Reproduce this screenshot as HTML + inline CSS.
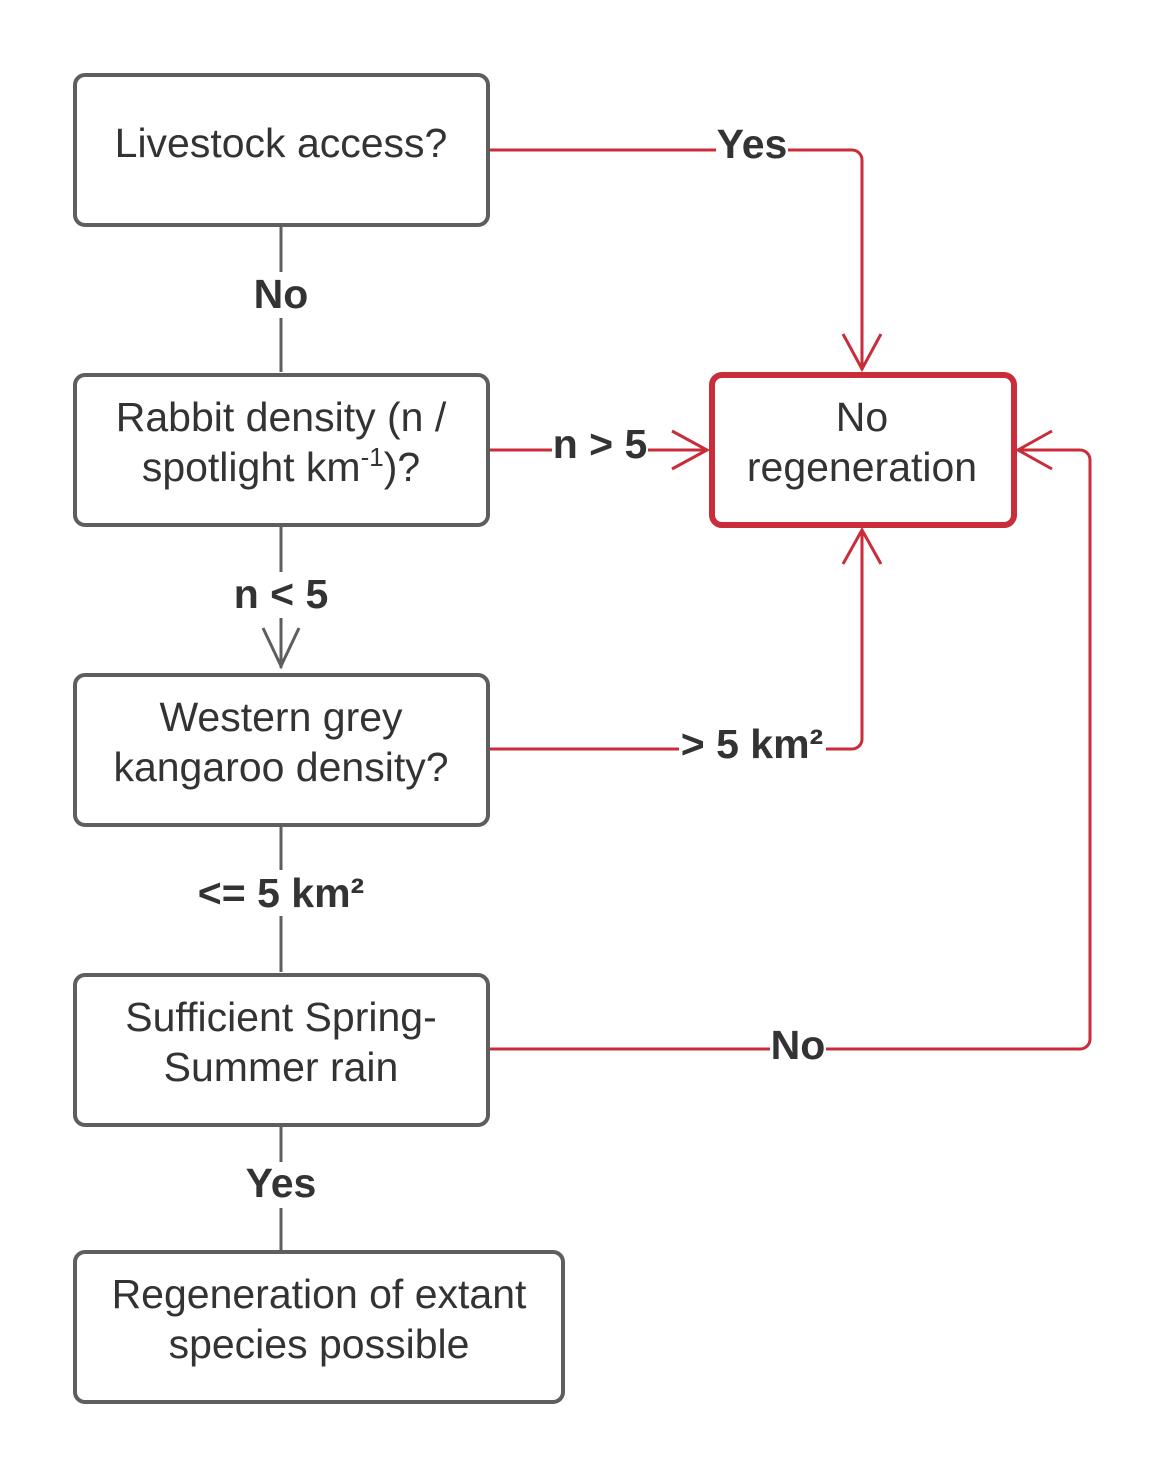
<!DOCTYPE html>
<html><head><style>body{margin:0;background:#fff}svg{display:block}</style></head><body>
<svg width="1168" height="1478" viewBox="0 0 1168 1478" xmlns="http://www.w3.org/2000/svg" font-family="Liberation Sans, Arial, sans-serif">
<g fill="none" stroke-width="3">
<path d="M281 225V372M281 525V668M281 825V972M281 1125V1250" stroke="#5e5e5e"/>
<path d="M263 628L281 666L299 628" stroke="#5e5e5e"/>
<path d="M488 150H852a10 10 0 0 1 10 10V370" stroke="#c92d39"/>
<path d="M843 334L862 369L881 334" stroke="#c92d39"/>
<path d="M488 450H707" stroke="#c92d39"/>
<path d="M672 431L707 450L672 469" stroke="#c92d39"/>
<path d="M488 749H852a10 10 0 0 0 10-10V530" stroke="#c92d39"/>
<path d="M843 564L862 530L881 564" stroke="#c92d39"/>
<path d="M488 1049H1080a10 10 0 0 0 10-10V460a10 10 0 0 0-10-10H1018" stroke="#c92d39"/>
<path d="M1052 431L1018 450L1052 469" stroke="#c92d39"/>
</g>
<g fill="#fff" stroke="#5e5e5e" stroke-width="4">
<rect x="75" y="75" width="413" height="150" rx="10"/>
<rect x="75" y="375" width="413" height="150" rx="10"/>
<rect x="75" y="675" width="413" height="150" rx="10"/>
<rect x="75" y="975" width="413" height="150" rx="10"/>
<rect x="75" y="1252" width="488" height="150" rx="10"/>
</g>
<rect x="712" y="375" width="302" height="150" rx="10" fill="#fff" stroke="#c92d39" stroke-width="6"/>
<g fill="#333" font-size="41" text-anchor="middle">
<text x="281" y="157">Livestock access?</text>
<text x="281" y="431">Rabbit density (n /</text>
<text x="281" y="481">spotlight km<tspan font-size="26" dy="-15">-1</tspan><tspan dy="15">)?</tspan></text>
<text x="281" y="731">Western grey</text>
<text x="281" y="781">kangaroo density?</text>
<text x="281" y="1031">Sufficient Spring-</text>
<text x="281" y="1081">Summer rain</text>
<text x="319" y="1308">Regeneration of extant</text>
<text x="319" y="1358">species possible</text>
<text x="862" y="431">No</text>
<text x="862" y="481">regeneration</text>
</g>
<g fill="#333" font-size="41" font-weight="bold" text-anchor="middle">
<rect x="246" y="272" width="70" height="46" fill="#fff"/>
<text x="281" y="308">No</text>
<rect x="226" y="572" width="110" height="46" fill="#fff"/>
<text x="281" y="608">n &lt; 5</text>
<rect x="188" y="870" width="186" height="46" fill="#fff"/>
<text x="281" y="907">&lt;= 5 km²</text>
<rect x="238" y="1162" width="86" height="46" fill="#fff"/>
<text x="281" y="1197">Yes</text>
<rect x="716" y="124" width="72" height="46" fill="#fff"/>
<text x="752" y="158">Yes</text>
<rect x="552" y="426" width="96" height="46" fill="#fff"/>
<text x="600" y="458">n &gt; 5</text>
<rect x="679" y="724" width="147" height="46" fill="#fff"/>
<text x="752" y="758">&gt; 5 km²</text>
<rect x="770" y="1026" width="56" height="46" fill="#fff"/>
<text x="798" y="1059">No</text>
</g>
</svg>
</body></html>
